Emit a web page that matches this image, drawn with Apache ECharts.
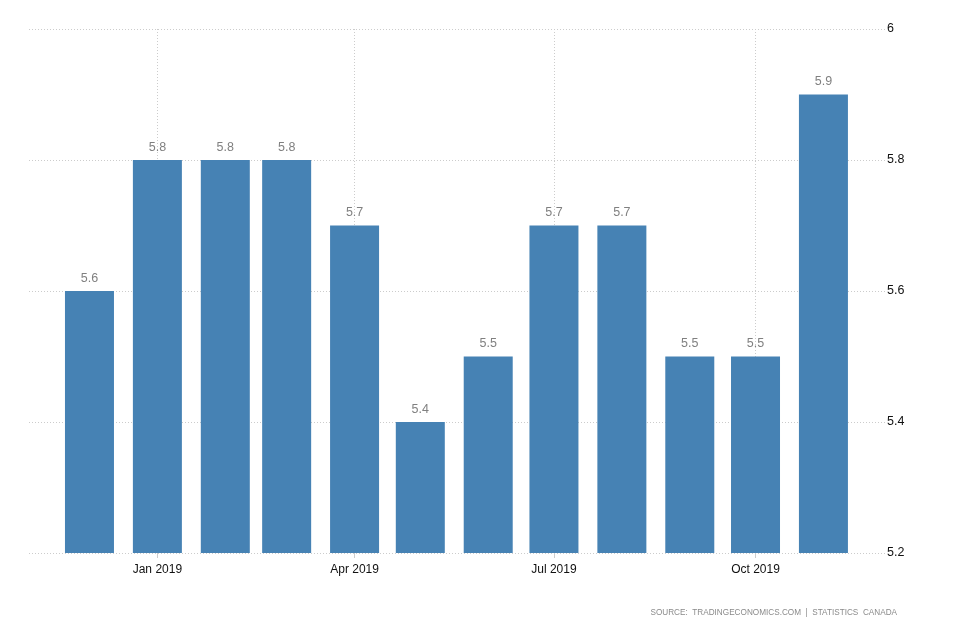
<!DOCTYPE html>
<html>
<head>
<meta charset="utf-8">
<script src="https://cdn.jsdelivr.net/npm/echarts@6/dist/echarts.min.js"></script>
<style>
html,body{margin:0;padding:0;background:#fff;}
#chart{width:954px;height:636px;}
</style>
</head>
<body>
<div id="chart"></div>
<script>
// Data
const dates = ['2018-12-01','2019-01-01','2019-02-01','2019-03-01','2019-04-01','2019-05-01',
               '2019-06-01','2019-07-01','2019-08-01','2019-09-01','2019-10-01','2019-11-01'];
const values = [5.6, 5.8, 5.8, 5.8, 5.7, 5.4, 5.5, 5.7, 5.7, 5.5, 5.5, 5.9];
const tickDates = ['2019-01-01','2019-04-01','2019-07-01','2019-10-01'];
const tickLabels = ['Jan 2019','Apr 2019','Jul 2019','Oct 2019'];
const yMin = 5.2, yMax = 6, yStep = 0.2;
const sourceText = 'SOURCE:  TRADINGECONOMICS.COM  |  STATISTICS  CANADA';

function ts(s){ const p = s.split('-').map(Number); return Date.UTC(p[0], p[1]-1, p[2]); }
const DAY = 86400000;
const first = ts(dates[0]);
const tickTs = tickDates.map(ts);

const chart = echarts.init(document.getElementById('chart'), null, {renderer:'canvas'});
const gridColor = '#cccccc';
chart.setOption({
  animation:false,
  backgroundColor:'#ffffff',
  textStyle:{fontFamily:'Liberation Sans, Arial, sans-serif'},
  title:{
    text: sourceText, right: 52, top: 604,
    textStyle:{fontSize:8.2, fontWeight:'normal', color:'#8a8a8a', fontFamily:'Liberation Sans, Arial, sans-serif'}
  },
  grid:{left:29, right:69, top:29, bottom:83, containLabel:false},
  xAxis:{
    type:'value',
    min: first - 27.6*DAY,
    max: first + 363.1*DAY,
    axisLine:{show:false},
    axisTick:{show:true, customValues: tickTs, length:5, lineStyle:{color:'#cccccc'}},
    axisLabel:{
      customValues: tickTs, margin:11, color:'#111', fontSize:12,
      formatter: function(v){ const i = tickTs.indexOf(v); return i >= 0 ? tickLabels[i] : ''; }
    },
    splitLine:{show:true, lineStyle:{color:gridColor, type:[1,2], width:1}}
  },
  yAxis:{
    type:'value', position:'right', min:yMin, max:yMax, interval:yStep,
    axisLine:{show:false}, axisTick:{show:false},
    axisLabel:{margin:2, color:'#111', fontSize:12.5},
    splitLine:{show:true, lineStyle:{color:gridColor, type:[1,2], width:1}}
  },
  series:[{
    type:'bar',
    barWidth:49,
    data: dates.map((d,i)=>[ts(d), values[i]]),
    itemStyle:{color:'#4682B4'},
    label:{show:true, position:'top', distance:6, color:'#808080', fontSize:12.5,
      formatter: p => p.value[1].toFixed(1)}
  }]
});
</script>
</body>
</html>
